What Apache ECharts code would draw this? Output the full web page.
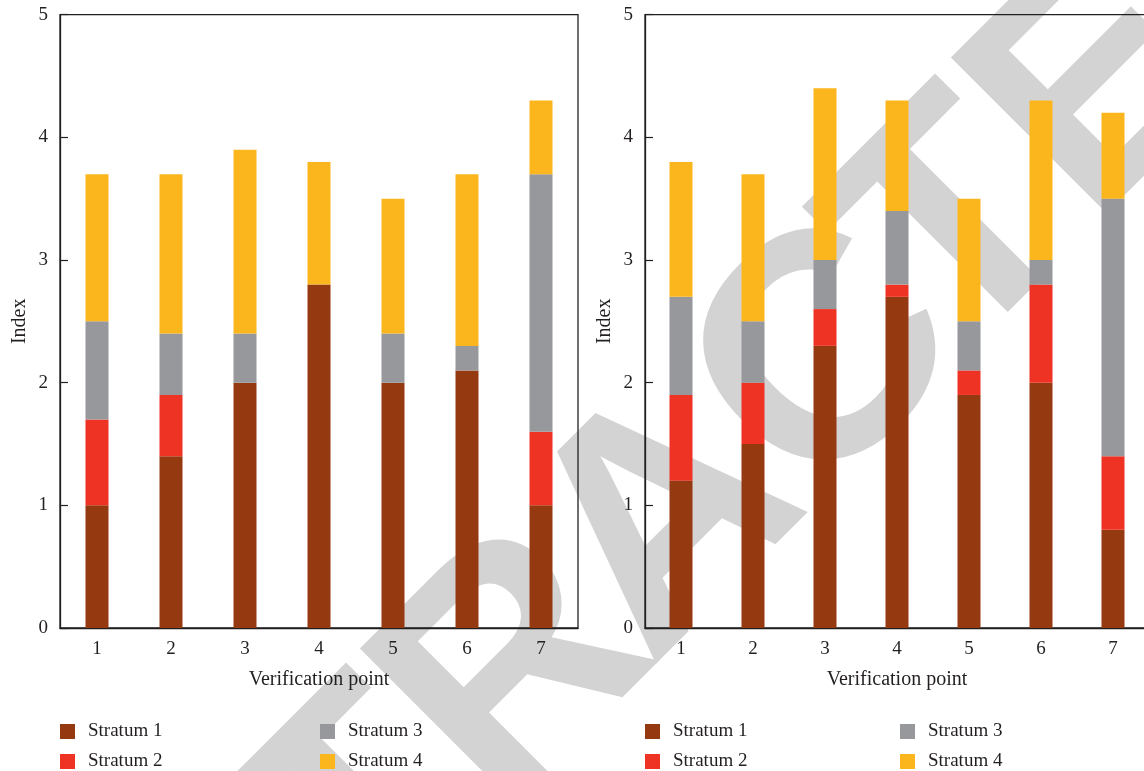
<!DOCTYPE html>
<html>
<head>
<meta charset="utf-8">
<title>Index by verification point</title>
<script src="https://cdn.jsdelivr.net/npm/echarts@6/dist/echarts.min.js"></script>
<style>
  html, body { margin: 0; padding: 0; background: #ffffff; }
  #chart { width: 1144px; height: 771px; }
</style>
</head>
<body>
<div id="chart"></div>
<script>
// Verification points along the x axis
const categories = ['1', '2', '3', '4', '5', '6', '7'];
const yTicks = [0, 1, 2, 3, 4, 5];
const strata = ['Stratum 1', 'Stratum 2', 'Stratum 3', 'Stratum 4'];

// Left panel: index contribution of each stratum
const leftS1 = [1.0, 1.4, 2.0, 2.8, 2.0, 2.1, 1.0];
const leftS2 = [0.7, 0.5, 0, 0, 0, 0, 0.6];
const leftS3 = [0.8, 0.5, 0.4, 0, 0.4, 0.2, 2.1];
const leftS4 = [1.2, 1.3, 1.5, 1.0, 1.1, 1.4, 0.6];

// Right panel: index contribution of each stratum
const rightS1 = [1.2, 1.5, 2.3, 2.7, 1.9, 2.0, 0.8];
const rightS2 = [0.7, 0.5, 0.3, 0.1, 0.2, 0.8, 0.6];
const rightS3 = [0.8, 0.5, 0.4, 0.6, 0.4, 0.2, 2.1];
const rightS4 = [1.1, 1.2, 1.4, 0.9, 1.0, 1.3, 0.7];

const colors = ['#953a10', '#ee3224', '#97989b', '#fbb61d'];
const ink = '#231f20';
const serif = '"Liberation Serif", "Times New Roman", serif';

// Watermark word, laid out letter by letter along a 45° baseline
const watermark = 'RETRACTED';
const wmOffsets = [-744, -522, -318, -110, 102, 330, 515, 717, 939];
const wmCenter = 845;
const wmGraphics = watermark.split('').map((ch, i) => ({
  type: 'text',
  x: (wmCenter + wmOffsets[i]) / Math.SQRT2,
  y: (wmCenter - wmOffsets[i]) / Math.SQRT2,
  rotation: Math.PI / 4,
  z: -10,
  silent: true,
  style: {
    text: ch,
    font: 'bold 320px "Liberation Sans", Arial, sans-serif',
    fill: '#d3d3d3',
    align: 'center',
    verticalAlign: 'middle'
  }
}));

const grids = [
  { left: 60, top: 14.7, width: 518, height: 613.3 },
  { left: 645, top: 14.7, width: 504, height: 613.3 }
];

function xAxis(gridIndex) {
  return {
    type: 'category',
    gridIndex,
    data: categories,
    name: 'Verification point',
    nameLocation: 'middle',
    nameGap: 42,
    nameTextStyle: { fontFamily: serif, fontSize: 20, color: ink },
    axisLine: { lineStyle: { color: ink, width: 1.3 } },
    axisTick: { inside: true, length: 8, lineStyle: { color: ink, width: 1.2 } },
    axisLabel: { margin: 12, fontFamily: serif, fontSize: 19, color: ink },
    splitLine: { show: false }
  };
}

function yAxis(gridIndex) {
  return {
    type: 'value',
    gridIndex,
    min: yTicks[0],
    max: yTicks[yTicks.length - 1],
    interval: 1,
    name: 'Index',
    nameLocation: 'middle',
    nameGap: 30,
    nameRotate: 90,
    nameTextStyle: { fontFamily: serif, fontSize: 20, color: ink },
    axisLine: { show: true, lineStyle: { color: ink, width: 1.3 } },
    axisTick: { show: true, inside: true, length: 8, lineStyle: { color: ink, width: 1.2 } },
    axisLabel: { margin: 12, fontFamily: serif, fontSize: 19, color: ink },
    splitLine: { show: false }
  };
}

function barSeries(name, data, color, panel) {
  return {
    name,
    type: 'bar',
    stack: 'panel' + panel,
    xAxisIndex: panel,
    yAxisIndex: panel,
    barWidth: 23,
    data,
    itemStyle: { color },
    z: 3
  };
}

function legend(left, names) {
  return {
    orient: 'vertical',
    left,
    top: 722,
    height: 120,
    padding: 0,
    itemGap: 11,
    itemWidth: 15,
    itemHeight: 15,
    icon: 'rect',
    data: names,
    textStyle: { fontFamily: serif, fontSize: 19, color: ink, lineHeight: 15, padding: [0, 0, 0, 8] }
  };
}

const chart = echarts.init(document.getElementById('chart'), null, { renderer: 'canvas' });
chart.setOption({
  backgroundColor: '#ffffff',
  animation: false,
  color: colors,
  graphic: wmGraphics,
  grid: grids.map(g => Object.assign({
    show: true,
    borderColor: ink,
    borderWidth: 1.3,
    backgroundColor: 'transparent',
    containLabel: false,
    outerBoundsMode: 'none'
  }, g)),
  xAxis: [xAxis(0), xAxis(1)],
  yAxis: [yAxis(0), yAxis(1)],
  legend: [
    legend(60, [strata[0], strata[1]]),
    legend(320, [strata[2], strata[3]]),
    legend(645, [strata[0], strata[1]]),
    legend(900, [strata[2], strata[3]])
  ],
  series: [
    barSeries(strata[0], leftS1, colors[0], 0),
    barSeries(strata[1], leftS2, colors[1], 0),
    barSeries(strata[2], leftS3, colors[2], 0),
    barSeries(strata[3], leftS4, colors[3], 0),
    barSeries(strata[0], rightS1, colors[0], 1),
    barSeries(strata[1], rightS2, colors[1], 1),
    barSeries(strata[2], rightS3, colors[2], 1),
    barSeries(strata[3], rightS4, colors[3], 1)
  ]
});
</script>
</body>
</html>
